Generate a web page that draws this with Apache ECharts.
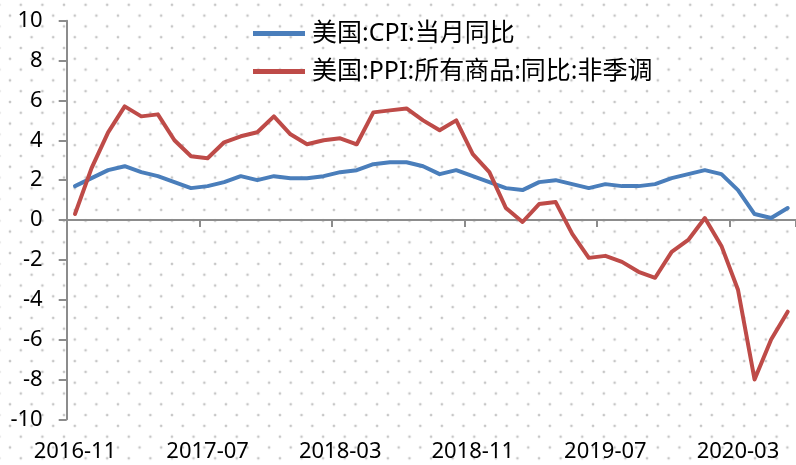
<!DOCTYPE html>
<html>
<head>
<meta charset="utf-8">
<script src="https://cdn.jsdelivr.net/npm/echarts@6/dist/echarts.min.js"></script>
<style>
  html, body { margin: 0; padding: 0; background: #fff; }
  /* staggered light-grey dot texture behind the plot */
  #chart {
    width: 796px; height: 465px;
    background-color: #fff;
    background-image:
      radial-gradient(circle at center, #c6c6c6 0, #c6c6c6 1px, rgba(255,255,255,0) 1.7px),
      radial-gradient(circle at center, #c6c6c6 0, #c6c6c6 1px, rgba(255,255,255,0) 1.7px);
    background-size: 21.6px 21.6px, 21.6px 21.6px;
    background-position: 10px -6px, 20.8px 4.8px;
  }
</style>
</head>
<body>
<div id="chart"></div>
<script>
// Monthly categories, 2016-11 .. 2020-06
const months = [
  '2016-11','2016-12',
  '2017-01','2017-02','2017-03','2017-04','2017-05','2017-06',
  '2017-07','2017-08','2017-09','2017-10','2017-11','2017-12',
  '2018-01','2018-02','2018-03','2018-04','2018-05','2018-06',
  '2018-07','2018-08','2018-09','2018-10','2018-11','2018-12',
  '2019-01','2019-02','2019-03','2019-04','2019-05','2019-06',
  '2019-07','2019-08','2019-09','2019-10','2019-11','2019-12',
  '2020-01','2020-02','2020-03','2020-04','2020-05','2020-06'
];

// 美国:CPI:当月同比 (%)
const cpiYoY = [
  1.7, 2.1,
  2.5, 2.7, 2.4, 2.2, 1.9, 1.6,
  1.7, 1.9, 2.2, 2.0, 2.2, 2.1,
  2.1, 2.2, 2.4, 2.5, 2.8, 2.9,
  2.9, 2.7, 2.3, 2.5, 2.2, 1.9,
  1.6, 1.5, 1.9, 2.0, 1.8, 1.6,
  1.8, 1.7, 1.7, 1.8, 2.1, 2.3,
  2.5, 2.3, 1.5, 0.3, 0.1, 0.6
];

// 美国:PPI:所有商品:同比:非季调 (%)
const ppiYoY = [
  0.3, 2.6,
  4.4, 5.7, 5.2, 5.3, 4.0, 3.2,
  3.1, 3.9, 4.2, 4.4, 5.2, 4.3,
  3.8, 4.0, 4.1, 3.8, 5.4, 5.5,
  5.6, 5.0, 4.5, 5.0, 3.3, 2.4,
  0.6, -0.1, 0.8, 0.9, -0.7, -1.9,
  -1.8, -2.1, -2.6, -2.9, -1.6, -1.0,
  0.1, -1.3, -3.5, -8.0, -6.0, -4.6
];

const seriesNames = ['美国:CPI:当月同比', '美国:PPI:所有商品:同比:非季调'];
const seriesColors = ['#4a7ebb', '#be4b48'];

const baseFont = '"Noto Sans", "Noto Sans CJK SC", sans-serif';
const axisGrey = '#8c8c8c';

const chart = echarts.init(document.getElementById('chart'), null, { renderer: 'canvas' });

chart.setOption({
  backgroundColor: 'transparent',
  animation: false,
  grid: { left: 66.7, right: -4, top: 20.7, bottom: 45.7, containLabel: false },
  legend: {
    orient: 'vertical',
    left: 253,
    top: 21,
    icon: 'rect',
    itemWidth: 52,
    itemHeight: 5,
    itemGap: 13,
    padding: 0,
    textStyle: {
      fontFamily: baseFont,
      fontSize: 25,
      color: '#000',
      padding: [0, 0, 0, 2]
    },
    data: seriesNames
  },
  xAxis: [
    {
      // axis line and ticks sitting on the zero level
      type: 'category',
      data: months,
      position: 'bottom',
      boundaryGap: true,
      axisLine: { show: true, onZero: true, lineStyle: { color: axisGrey, width: 2 } },
      axisTick: { show: true, interval: 7, length: 7, lineStyle: { color: axisGrey, width: 2 } },
      axisLabel: { show: false },
      splitLine: { show: false }
    },
    {
      // date labels along the bottom edge
      type: 'category',
      data: months,
      position: 'bottom',
      boundaryGap: true,
      axisLine: { show: false, onZero: false },
      axisTick: { show: false },
      axisLabel: {
        show: true,
        interval: 7,
        margin: 21,
        fontFamily: baseFont,
        fontSize: 22,
        color: '#000'
      },
      splitLine: { show: false }
    }
  ],
  yAxis: {
    type: 'value',
    min: -10,
    max: 10,
    interval: 2,
    axisLine: { show: true, lineStyle: { color: axisGrey, width: 2 } },
    axisTick: { show: true, length: 8, lineStyle: { color: axisGrey, width: 2 } },
    axisLabel: {
      margin: 24,
      fontFamily: baseFont,
      fontSize: 22,
      color: '#000'
    },
    splitLine: { show: false }
  },
  series: [
    {
      name: seriesNames[0],
      type: 'line',
      data: cpiYoY,
      symbol: 'none',
      smooth: false,
      color: seriesColors[0],
      lineStyle: { width: 4, color: seriesColors[0], cap: 'round', join: 'round' }
    },
    {
      name: seriesNames[1],
      type: 'line',
      data: ppiYoY,
      symbol: 'none',
      smooth: false,
      color: seriesColors[1],
      lineStyle: { width: 4, color: seriesColors[1], cap: 'round', join: 'round' }
    }
  ]
});
</script>
</body>
</html>
